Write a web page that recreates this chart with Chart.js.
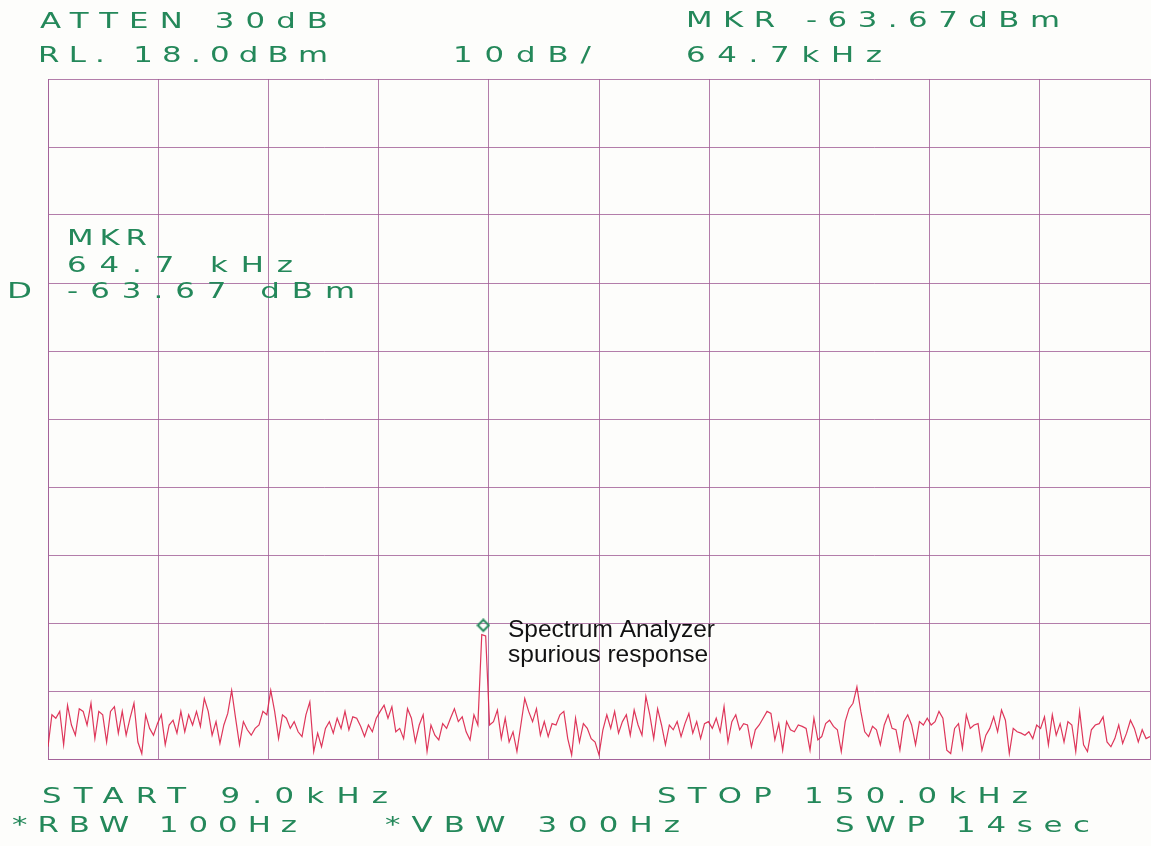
<!DOCTYPE html>
<html>
<head>
<meta charset="utf-8">
<title>Spectrum analyzer plot</title>
<script src="https://cdn.jsdelivr.net/npm/chart.js@4.4.1/dist/chart.umd.min.js"></script>
<style>
  html, body { margin: 0; padding: 0; background: #fdfdfb; }
  canvas { display: block; }
</style>
</head>
<body>
<canvas id="plot" width="1151" height="846"></canvas>
<script>
// sweep settings
const START_KHZ = 9.0
const STOP_KHZ = 150.0
const STEP_KHZ = 0.5
const REF_LEVEL_DBM = 18.0
const BOTTOM_DBM = -82.0

// 10 x 10 graticule
const X_GRID_KHZ = [9, 23.1, 37.2, 51.3, 65.4, 79.5, 93.6, 107.7, 121.8, 135.9, 150]
const Y_GRID_DBM = [-82, -72, -62, -52, -42, -32, -22, -12, -2, 8, 18]

// trace, one value every 0.5 kHz from 9.0 kHz
const TRACE_DBM = [
  -80.2, -75.5, -76.0, -75.0, -79.9, -74.1, -77.0, -78.5, -74.6, -75.0,
  -77.0, -73.8, -79.0, -75.0, -75.5, -79.5, -75.0, -74.3, -78.2, -75.0,
  -78.5, -76.0, -73.8, -79.5, -81.2, -75.5, -77.5, -78.5, -76.8, -75.5,
  -79.9, -77.0, -76.3, -78.2, -75.0, -78.0, -75.5, -77.0, -75.0, -77.2,
  -73.1, -75.0, -78.5, -76.5, -79.7, -77.0, -75.3, -71.9, -76.0, -79.9,
  -76.5, -77.7, -78.5, -77.5, -77.0, -75.0,
  -75.5, -71.9, -75.0, -79.0, -75.5, -76.0, -77.5, -76.5, -78.0, -78.7,
  -75.5, -73.6, -80.9, -78.2, -80.2, -77.5, -76.5, -78.2, -76.0, -77.5,
  -75.0, -77.7, -75.8, -76.0, -77.2, -78.7, -77.0, -78.0, -76.0, -75.0,
  -74.1, -76.0, -74.3, -78.0, -77.5, -79.0, -74.6, -76.0, -79.5, -77.0,
  -75.5, -80.9, -77.0, -78.5, -79.2, -76.8, -77.5, -76.0, -74.6, -76.5,
  -75.8, -78.0, -79.2, -75.5, -77.0,
  -63.7, -63.9,
  -77.0, -76.5, -74.8, -79.0, -76.0, -79.5, -78.0, -80.9, -77.0, -73.1,
  -75.0, -76.5, -74.6, -78.5, -76.5, -78.7, -76.8, -77.0, -75.5, -75.0,
  -79.0, -81.4, -76.0, -79.5, -76.8, -77.5, -79.0, -79.5, -81.4, -77.7,
  -75.5, -77.5, -75.0, -78.2, -76.5, -75.5, -78.5, -74.8, -77.0, -78.5,
  -72.8, -75.5, -79.0, -74.6, -77.0, -79.9, -77.0, -77.7, -76.5, -78.7,
  -76.8, -75.3, -78.2, -76.5, -79.0, -76.8,
  -76.5, -77.5, -76.0, -78.0, -74.3, -79.5, -76.5, -75.5, -77.7, -76.8,
  -77.0, -80.2, -77.7, -77.0, -76.0, -75.0, -75.3, -79.2, -76.8, -80.7,
  -76.5, -77.7, -78.0, -77.0, -77.2, -77.5, -80.7, -76.0, -79.2, -78.7,
  -76.8, -76.3, -77.2, -77.7, -80.9, -76.5, -74.6, -73.8, -71.4, -75.0,
  -78.0, -78.7, -77.2, -77.7, -79.9, -77.0, -75.5, -77.5, -77.7, -80.7,
  -76.5, -75.5, -77.0, -79.9, -76.5, -77.0, -76.0,
  -77.0, -76.5, -75.0, -76.0, -80.7, -81.2, -77.5, -76.8, -80.4, -75.5,
  -77.5, -77.0, -76.8, -80.7, -78.5, -77.5, -75.8, -78.0, -74.8, -76.3,
  -81.2, -77.5, -78.0, -78.2, -78.5, -78.0, -79.0, -77.0, -77.5, -75.8,
  -79.9, -75.5, -78.5, -76.8, -79.5, -76.5, -77.0, -80.9, -75.0, -79.9,
  -80.9, -77.7, -77.0, -76.8, -75.8, -79.5, -80.2, -79.0, -77.0, -79.7,
  -78.2, -76.3, -77.5, -79.5, -77.7, -79.0, -78.7
]

const MARKER_KHZ = 64.7
const MARKER_DBM = -63.67

// plotter annotation
const ANNOTATION_TEXT = [
  'ATTEN 30dB', 'RL. 18.0dBm', '10dB/', 'MKR -63.67dBm', '64.7kHz',
  'MKR', '64.7 kHz', '-63.67 dBm', 'D',
  'START 9.0kHz', 'STOP 150.0kHz', '*RBW 100Hz', '*VBW 300Hz', 'SWP 14sec'
]
const NOTE_LINES = ['Spectrum Analyzer', 'spurious response']

const GREEN = '#24885a'
const GRID = 'rgba(160, 92, 150, 0.8)'
const TRACE = 'rgba(218, 32, 72, 0.9)'

// where each annotation string sits: left, baseline, width
const ANNOTATION_BOXES = [
  [40, 28, 288], [38, 62, 290], [453, 62, 138], [686, 27, 374], [686, 62, 196],
  [67, 245, 80], [67, 272, 226], [67, 298, 288], [7, 298, 25],
  [42, 803, 346], [657, 803, 371], [12, 832, 285], [385, 832, 295], [835, 832, 255]
]

/**
 * Draws a string starting at x with wide letters spread out to a given width,
 * the way the pen plotter draws its characters.
 */
function spreadText(ctx, text, x, y, width) {
  const sx = 1.4
  ctx.letterSpacing = '0px'
  const natural = ctx.measureText(text).width
  const gap = text.length > 1 ? (width / sx - natural) / (text.length - 1) : 0
  ctx.save()
  ctx.translate(x, y)
  ctx.scale(text.length > 1 ? sx : width / natural, 1)
  ctx.letterSpacing = Math.max(gap, 0) + 'px'
  ctx.fillText(text, 0, 0)
  ctx.restore()
}

/**
 * Marker glyph: a small open diamond that the plotter draws just above the trace point.
 */
function markerGlyph() {
  const c = document.createElement('canvas')
  c.width = 14
  c.height = 32
  const g = c.getContext('2d')
  g.strokeStyle = GREEN
  g.lineWidth = 2
  g.beginPath()
  g.moveTo(7, 1.5)
  g.lineTo(12.5, 7)
  g.lineTo(7, 12.5)
  g.lineTo(1.5, 7)
  g.closePath()
  g.stroke()
  return c
}

const plotterText = {
  id: 'plotterText',
  afterDraw(chart) {
    const ctx = chart.ctx
    ctx.save()
    ctx.fillStyle = GREEN
    ctx.font = '22px "DejaVu Sans"'
    ctx.textBaseline = 'alphabetic'
    ANNOTATION_TEXT.forEach((text, i) => {
      const [x, y, w] = ANNOTATION_BOXES[i]
      spreadText(ctx, text, x, y, w)
    })
    ctx.fillStyle = '#111'
    ctx.font = '24.5px "Liberation Sans"'
    NOTE_LINES.forEach((line, i) => {
      ctx.fillText(line, 508, 637 + i * 25)
    })
    ctx.restore()
  }
}

const traceData = TRACE_DBM.map((dbm, i) => ({ x: START_KHZ + i * STEP_KHZ, y: dbm }))

new Chart(document.getElementById('plot').getContext('2d'), {
  type: 'line',
  data: {
    datasets: [
      {
        label: 'trace',
        data: traceData,
        borderColor: TRACE,
        borderWidth: 1.2,
        pointRadius: 0,
        tension: 0
      },
      {
        label: 'marker',
        type: 'scatter',
        data: [{ x: MARKER_KHZ, y: MARKER_DBM }],
        pointStyle: markerGlyph(),
        pointRadius: 7
      }
    ]
  },
  options: {
    responsive: false,
    animation: false,
    layout: { autoPadding: false, padding: { left: 48, top: 79, right: 1, bottom: 87 } },
    plugins: { legend: { display: false }, tooltip: { enabled: false } },
    scales: {
      x: {
        type: 'linear',
        min: START_KHZ,
        max: STOP_KHZ,
        afterBuildTicks: (axis) => { axis.ticks = X_GRID_KHZ.map((v) => ({ value: v })) },
        ticks: { display: false },
        grid: { color: GRID, lineWidth: 1, drawTicks: false },
        border: { color: GRID, width: 1 }
      },
      y: {
        min: BOTTOM_DBM,
        max: REF_LEVEL_DBM,
        afterBuildTicks: (axis) => { axis.ticks = Y_GRID_DBM.map((v) => ({ value: v })) },
        ticks: { display: false },
        grid: { color: GRID, lineWidth: 1, drawTicks: false },
        border: { color: GRID, width: 1 }
      }
    }
  },
  plugins: [plotterText]
})
</script>
</body>
</html>
